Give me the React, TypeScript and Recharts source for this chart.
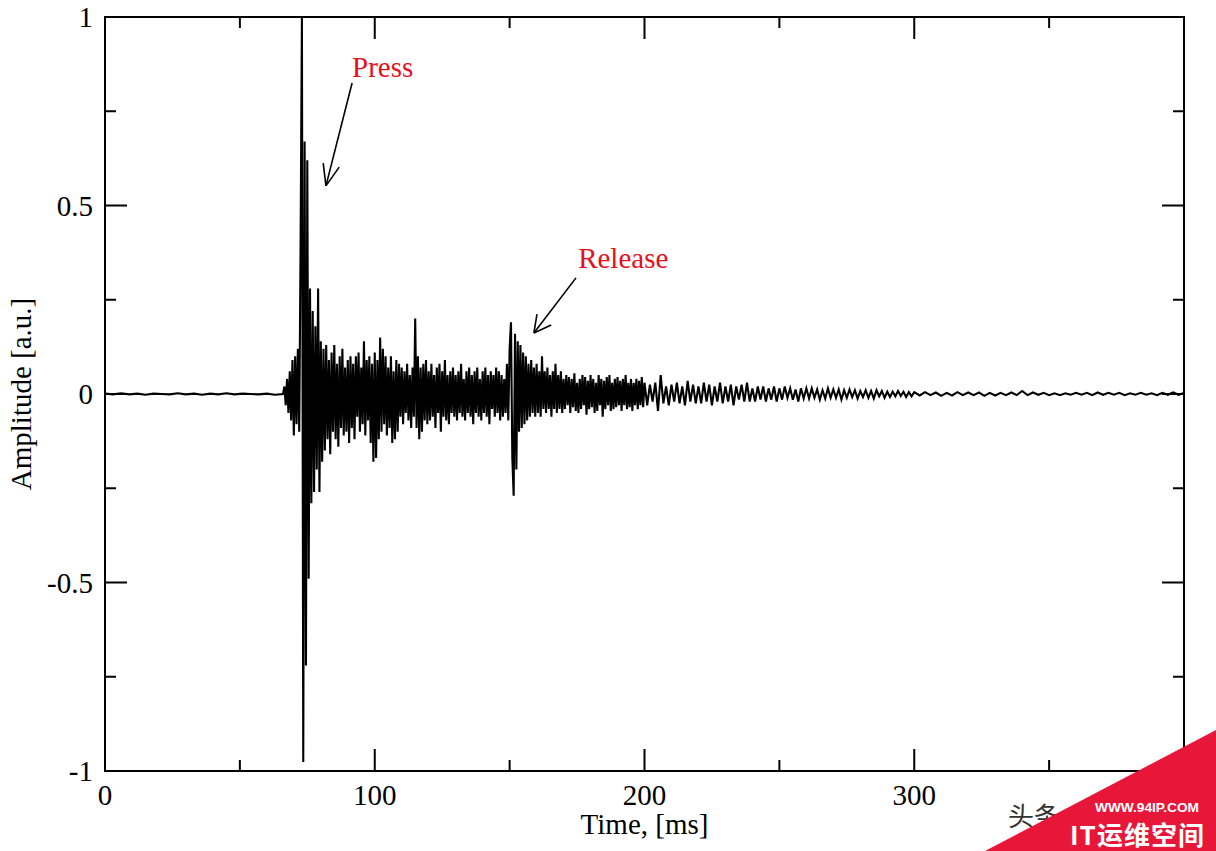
import React from "react";
import {
  LineChart,
  Line,
  XAxis,
  YAxis,
  ReferenceArea,
  ReferenceLine,
  ReferenceDot,
} from "recharts";

// === DATA (amplitude samples) ===
// quiet lead-in, 0..63 ms every 3 ms
const quietLead = [
  0.001, -0.001, 0.002, -0.001, 0.001, -0.002, 0.001, 0.0, -0.001, 0.002, -0.001,
  0.001, -0.002, 0.001, -0.001, 0.002, -0.001, 0.001, 0.0, -0.001, 0.001, -0.002,
];
// key press burst, 66..90 ms every 0.5 ms
const pressBurst = [
  0.0, 0.02, -0.03, 0.04, -0.05, 0.06, -0.07, 0.09, -0.11, 0.1,
  -0.08, 0.12, -0.1, 0.39, 1.0, -0.976, 0.67, -0.72, 0.62, -0.49,
  0.28, -0.29, 0.22, -0.26, 0.18, -0.2, 0.28, -0.26, 0.14, -0.18,
  0.12, -0.15, 0.13, -0.12, 0.09, -0.16, 0.11, -0.1, 0.13, -0.12,
  0.08, -0.14, 0.1, -0.09, 0.12, -0.11, 0.07, -0.1, 0.09,
];
// ringing after the press, 90.5..149.5 ms every 0.5 ms
const ringDown = [
  -0.13, 0.1, -0.09, 0.08, -0.12, 0.1, -0.06, 0.11, -0.1, 0.07,
  -0.08, 0.14, -0.11, 0.09, -0.07, 0.1, -0.13, 0.08, -0.18, 0.11,
  -0.17, 0.09, -0.12, 0.15, -0.1, 0.12, -0.08, 0.1, -0.11, 0.07,
  -0.09, 0.1, -0.13, 0.06, -0.12, 0.09, -0.1, 0.08, -0.06, 0.07,
  -0.08, 0.06, -0.05, 0.08, -0.07, 0.05, -0.09, 0.07, -0.06, 0.2,
  -0.09, 0.1, -0.12, 0.07, -0.1, 0.08, -0.07, 0.09, -0.08, 0.06,
  -0.07, 0.08, -0.06, 0.05, -0.09, 0.07, -0.05, 0.08, -0.1, 0.06,
  -0.06, 0.09, -0.07, 0.05, -0.08, 0.06, -0.05, 0.07, -0.06, 0.05,
  -0.07, 0.06, -0.05, 0.08, -0.06, 0.04, -0.07, 0.06, -0.05, 0.07,
  -0.06, 0.05, -0.08, 0.06, -0.05, 0.07, -0.06, 0.04, -0.07, 0.06,
  -0.05, 0.07, -0.06, 0.05, -0.08, 0.06, -0.04, 0.05, -0.06, 0.07,
  -0.05, 0.06, -0.07, 0.05, -0.06, 0.04, -0.05, 0.08, -0.07,
];
// key release burst, 150..170 ms every 0.5 ms
const releaseBurst = [
  0.12, 0.19, -0.17, -0.27, 0.16, -0.2, 0.14, -0.1, 0.13, -0.09,
  0.11, -0.08, 0.1, -0.07, 0.08, -0.06, 0.09, -0.05, 0.07, -0.06,
  0.08, -0.05, 0.06, -0.06, 0.1, -0.04, 0.06, -0.05, 0.07, -0.04,
  0.05, -0.06, 0.06, -0.04, 0.08, -0.05, 0.05, -0.04, 0.06, -0.05,
  0.04,
];
// settling, 170.5..200 ms every 0.5 ms
const settle = [
  -0.04, 0.05, -0.03, 0.045, -0.05, 0.04, -0.035, 0.055, -0.045, 0.03,
  -0.05, 0.04, -0.04, 0.05, -0.03, 0.045, -0.055, 0.035, -0.04, 0.05,
  -0.035, 0.04, -0.05, 0.03, -0.045, 0.05, -0.03, 0.04, -0.06, 0.035,
  -0.04, 0.045, -0.03, 0.05, -0.045, 0.03, -0.04, 0.04, -0.035, 0.045,
  -0.03, 0.035, -0.045, 0.04, -0.03, 0.05, -0.04, 0.03, -0.035, 0.04,
  -0.045, 0.03, -0.03, 0.04, -0.04, 0.035, -0.03, 0.045, -0.035, 0.03,
];
// decay, 201..300 ms every 1 ms
const decay = [
  -0.03, 0.025, -0.02, 0.03, -0.045, 0.05, -0.025, 0.02, -0.03, 0.025,
  -0.02, 0.03, -0.025, 0.02, -0.03, 0.035, -0.02, 0.025, -0.025, 0.02,
  -0.025, 0.03, -0.02, 0.025, -0.03, 0.02, -0.02, 0.03, -0.025, 0.02,
  -0.02, 0.025, -0.03, 0.02, -0.015, 0.025, -0.02, 0.03, -0.02, 0.015,
  -0.02, 0.02, -0.015, 0.02, -0.02, 0.015, -0.015, 0.02, -0.02, 0.015,
  -0.015, 0.02, -0.01, 0.015, -0.015, 0.012, -0.02, 0.015, -0.012, 0.015,
  -0.012, 0.015, -0.01, 0.012, -0.015, 0.01, -0.012, 0.015, -0.01, 0.012,
  -0.01, 0.012, -0.015, 0.01, -0.01, 0.012, -0.008, 0.01, -0.012, 0.008,
  -0.008, 0.01, -0.01, 0.008, -0.012, 0.01, -0.006, 0.008, -0.01, 0.006,
  -0.008, 0.006, -0.006, 0.008, -0.005, 0.006, -0.008, 0.005, -0.006, 0.005,
];
// tail, 302..400 ms every 2 ms
const tail = [
  -0.004, 0.005, -0.003, 0.004, -0.005, 0.003, -0.004, 0.005, -0.003, 0.004,
  -0.003, 0.004, -0.005, 0.003, -0.004, 0.003, -0.003, 0.004, -0.003, 0.008,
  -0.003, 0.004, -0.002, 0.003, -0.003, 0.002, -0.003, 0.002, -0.002, 0.003,
  -0.002, 0.003, -0.003, 0.004, -0.002, 0.003, -0.002, 0.003, -0.003, 0.002,
  -0.002, 0.003, -0.002, 0.002, -0.003, 0.003, -0.002, 0.004, -0.002, 0.003,
];

const segments = [
  { start: 0, step: 3, values: quietLead },
  { start: 66, step: 0.5, values: pressBurst },
  { start: 90.5, step: 0.5, values: ringDown },
  { start: 150, step: 0.5, values: releaseBurst },
  { start: 170.5, step: 0.5, values: settle },
  { start: 201, step: 1, values: decay },
  { start: 302, step: 2, values: tail },
];

const xTicks = [0, 50, 100, 150, 200, 250, 300, 350, 400];
const xLabelled = [0, 100, 200, 300];
const yTicks = [-1, -0.75, -0.5, -0.25, 0, 0.25, 0.5, 0.75, 1];

const annotations = [
  { label: "Press", text: { t: 91.6, a: 0.84 }, from: { t: 91.6, a: 0.825 }, to: { t: 81.9, a: 0.552 }, spread: 21, head: 23 },
  { label: "Release", text: { t: 175.4, a: 0.334 }, from: { t: 174.6, a: 0.308 }, to: { t: 159.0, a: 0.162 }, spread: 28, head: 19 },
];

const samples = segments.flatMap((s) =>
  s.values.map((a, i) => ({ t: +(s.start + i * s.step).toFixed(2), a }))
);

// === LAYOUT ===
const W = 1216;
const H = 851;
const PLOT_LEFT = 105;
const PLOT_TOP = 17;
const PLOT_W = 1079;
const PLOT_H = 754;
const FONT = "'Liberation Serif', 'Times New Roman', serif";

const XTick = (props: any) => {
  const { x, y, payload } = props;
  const v = payload.value;
  const major = v % 100 === 0;
  const len = major ? 22 : 11;
  return (
    <g>
      <line x1={x} y1={y} x2={x} y2={y - len} stroke="#000" strokeWidth={2} />
      <line x1={x} y1={y - PLOT_H} x2={x} y2={y - PLOT_H + len} stroke="#000" strokeWidth={2} />
      {xLabelled.includes(v) && (
        <text x={x} y={y + 34} textAnchor="middle" fontFamily={FONT} fontSize={29} fill="#000">
          {v}
        </text>
      )}
    </g>
  );
};

const YTick = (props: any) => {
  const { x, y, payload } = props;
  const v = payload.value;
  const major = Math.abs(v % 0.5) < 1e-9;
  const len = major ? 22 : 11;
  return (
    <g>
      <line x1={x} y1={y} x2={x + len} y2={y} stroke="#000" strokeWidth={2} />
      <line x1={x + PLOT_W - len} y1={y} x2={x + PLOT_W} y2={y} stroke="#000" strokeWidth={2} />
      {major && (
        <text x={x - 12} y={y + 10} textAnchor="end" fontFamily={FONT} fontSize={29} fill="#000">
          {String(v)}
        </text>
      )}
    </g>
  );
};

const arrowShape = (spread: number, head: number) => (props: any) => {
  const { x1, y1, x2, y2 } = props;
  const ang = Math.atan2(y1 - y2, x1 - x2);
  const r = (spread * Math.PI) / 180;
  const h1x = x2 + head * Math.cos(ang + r);
  const h1y = y2 + head * Math.sin(ang + r);
  const h2x = x2 + head * Math.cos(ang - r);
  const h2y = y2 + head * Math.sin(ang - r);
  return (
    <g stroke="#000" strokeWidth={1.6} fill="none">
      <line x1={x1} y1={y1} x2={x2} y2={y2} />
      <line x1={x2} y1={y2} x2={h1x} y2={h1y} />
      <line x1={x2} y1={y2} x2={h2x} y2={h2y} />
    </g>
  );
};

const textShape = (label: string) => (props: any) => (
  <text x={props.cx} y={props.cy} fontFamily={FONT} fontSize={29} fill="#e8101c">
    {label}
  </text>
);

const App: React.FC = () => {
  return (
    <div style={{ position: "absolute", left: 0, top: 0, width: W, height: H, background: "#fff", overflow: "hidden" }}>
      <LineChart
        width={W}
        height={H}
        data={samples}
        margin={{ top: PLOT_TOP, right: W - PLOT_LEFT - PLOT_W, bottom: H - PLOT_TOP - PLOT_H - 30, left: 0 }}
      >
        <XAxis
          dataKey="t"
          type="number"
          domain={[0, 400]}
          ticks={xTicks}
          interval={0}
          allowDataOverflow
          height={30}
          tickSize={0}
          tickMargin={0}
          axisLine={false}
          tickLine={false}
          tick={<XTick />}
          label={(p: any) => {
            const vb = p.viewBox || {};
            return (
              <text x={vb.x + vb.width / 2} y={vb.y + 63} textAnchor="middle" fontFamily={FONT} fontSize={29} fill="#000">
                Time, [ms]
              </text>
            );
          }}
        />
        <YAxis
          type="number"
          domain={[-1, 1]}
          ticks={yTicks}
          interval={0}
          allowDataOverflow
          width={PLOT_LEFT}
          tickSize={0}
          tickMargin={0}
          axisLine={false}
          tickLine={false}
          tick={<YTick />}
          label={(p: any) => {
            const vb = p.viewBox || {};
            const cx = vb.x + 31;
            const cy = vb.y + vb.height / 2;
            return (
              <text x={cx} y={cy} transform={`rotate(-90, ${cx}, ${cy})`} textAnchor="middle" fontFamily={FONT} fontSize={29} fill="#000">
                Amplitude [a.u.]
              </text>
            );
          }}
        />
        <Line
          type="linear"
          dataKey="a"
          stroke="#000"
          strokeWidth={2.1}
          strokeLinejoin="miter"
          dot={false}
          activeDot={false}
          isAnimationActive={false}
        />
        <ReferenceArea x1={0} x2={400} y1={-1} y2={1} fill="none" fillOpacity={0} stroke="#000" strokeWidth={2} />
        {annotations.map((an) => (
          <ReferenceLine
            key={an.label + "-arrow"}
            segment={[{ x: an.from.t, y: an.from.a }, { x: an.to.t, y: an.to.a }]}
            shape={arrowShape(an.spread, an.head)}
          />
        ))}
        {annotations.map((an) => (
          <ReferenceDot key={an.label} x={an.text.t} y={an.text.a} r={0} shape={textShape(an.label)} />
        ))}
      </LineChart>
      <svg width={W} height={H} style={{ position: "absolute", left: 0, top: 0, pointerEvents: "none" }}>
        <text x={1008} y={826} fontFamily="'Noto Sans CJK SC', sans-serif" fontSize={26} fill="#333">
          头条
        </text>
        <polygon points="1216,730 1216,851 985,851" fill="#e8173a" />
        <text x={1095} y={812} fontFamily="'Liberation Sans', sans-serif" fontWeight="bold" fontSize={13} textLength={104} lengthAdjust="spacingAndGlyphs" fill="#fff">
          WWW.94IP.COM
        </text>
        <text x={1070} y={845} fontFamily="'Noto Sans CJK SC', sans-serif" fontWeight="bold" fontSize={26} textLength={134} lengthAdjust="spacing" fill="#fff">
          IT运维空间
        </text>
      </svg>
    </div>
  );
};

export default App;
